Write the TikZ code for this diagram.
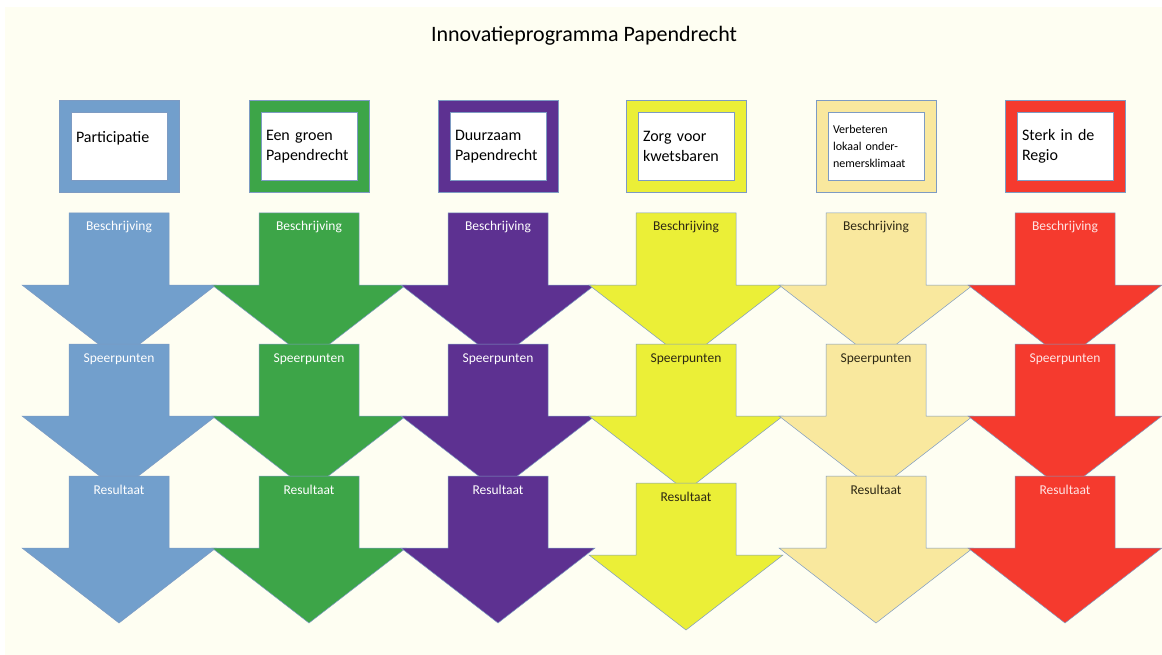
\documentclass[tikz,border=0pt]{standalone}
\usepackage{fontspec}
\setmainfont{Carlito}
\definecolor{achtergrond}{RGB}{254,254,242}
\definecolor{rand}{RGB}{125,155,195}
\definecolor{blauw}{RGB}{114,159,204}
\definecolor{groen}{RGB}{61,165,72}
\definecolor{paars}{RGB}{93,49,145}
\definecolor{geel}{RGB}{235,239,55}
\definecolor{lichtgeel}{RGB}{249,232,158}
\definecolor{rood}{RGB}{245,58,46}
\definecolor{donker}{RGB}{45,40,20}
\definecolor{roze}{RGB}{255,228,228}
\tikzset{
  kader/.style={draw=rand, line width=0.5pt, fill=#1, minimum width=120pt,
    minimum height=92pt, inner sep=0pt},
  thema/.style={draw=rand, line width=0.5pt, fill=white, minimum width=96pt,
    minimum height=68pt, text width=86pt, inner xsep=5pt, align=left,
    font=\fontsize{16}{20}\selectfont},
  pijlvorm/.style={draw=rand, line width=0.5pt},
  fase/.style={font=\fontsize{13.5}{16}\selectfont, anchor=base},
  titel/.style={font=\fontsize{22}{26}\selectfont, anchor=base}
}
% naam, x, bovenkant, vulkleur, tekstkleur, tekst
\newcommand{\pijl}[6]{%
  \draw[pijlvorm, fill=#4] (#2-50,#3) -- (#2+50,#3) -- (#2+50,#3+72) -- (#2+97,#3+72)
    -- (#2,#3+147) -- (#2-97,#3+72) -- (#2-50,#3+72) -- cycle;
  \node[fase, text=#5] (#1) at (#2,#3+18) {#6};
}
\begin{document}
\begin{tikzpicture}[x=1pt, y=-1pt]
  \useasboundingbox (0,0) rectangle (1162,655);
  \fill[achtergrond] (5,7) rectangle (1162,655);
  \node[titel] (titel) at (584,42) {Innovatieprogramma Papendrecht};
  % thema's
  \node[kader=blauw] (kader1) at (119,146.5) {};
  \node[kader=groen] (kader2) at (309,146.5) {};
  \node[kader=paars] (kader3) at (498,146.5) {};
  \node[kader=geel] (kader4) at (686,146.5) {};
  \node[kader=lichtgeel] (kader5) at (876,146.5) {};
  \node[kader=rood] (kader6) at (1065,146.5) {};
  \node[thema] (participatie) at (kader1) {Participatie\\\mbox{}};
  \node[thema] (groen) at (kader2) {Een groen\\Papendrecht};
  \node[thema] (duurzaam) at (kader3) {Duurzaam\\Papendrecht};
  \node[thema] (zorg) at (kader4) {Zorg voor\\kwetsbaren};
  \node[thema, font=\fontsize{12}{17}\selectfont] (ondernemers) at (kader5)
    {Verbeteren\\lokaal onder-\\nemersklimaat};
  \node[thema] (regio) at (kader6) {Sterk in de\\Regio};
  % beschrijving
  \pijl{besch1}{119}{213}{blauw}{white}{Beschrijving}
  \pijl{besch2}{309}{213}{groen}{white}{Beschrijving}
  \pijl{besch3}{498}{213}{paars}{white}{Beschrijving}
  \pijl{besch4}{686}{213}{geel}{donker}{Beschrijving}
  \pijl{besch5}{876}{213}{lichtgeel}{donker}{Beschrijving}
  \pijl{besch6}{1065}{213}{rood}{roze}{Beschrijving}
  % speerpunten
  \pijl{speer1}{119}{344}{blauw}{white}{Speerpunten}
  \pijl{speer2}{309}{344}{groen}{white}{Speerpunten}
  \pijl{speer3}{498}{344}{paars}{white}{Speerpunten}
  \pijl{speer4}{686}{344}{geel}{donker}{Speerpunten}
  \pijl{speer5}{876}{344}{lichtgeel}{donker}{Speerpunten}
  \pijl{speer6}{1065}{344}{rood}{roze}{Speerpunten}
  % resultaat
  \pijl{res1}{119}{476}{blauw}{white}{Resultaat}
  \pijl{res2}{309}{476}{groen}{white}{Resultaat}
  \pijl{res3}{498}{476}{paars}{white}{Resultaat}
  \pijl{res4}{686}{483}{geel}{donker}{Resultaat}
  \pijl{res5}{876}{476}{lichtgeel}{donker}{Resultaat}
  \pijl{res6}{1065}{476}{rood}{roze}{Resultaat}
\end{tikzpicture}
\end{document}
